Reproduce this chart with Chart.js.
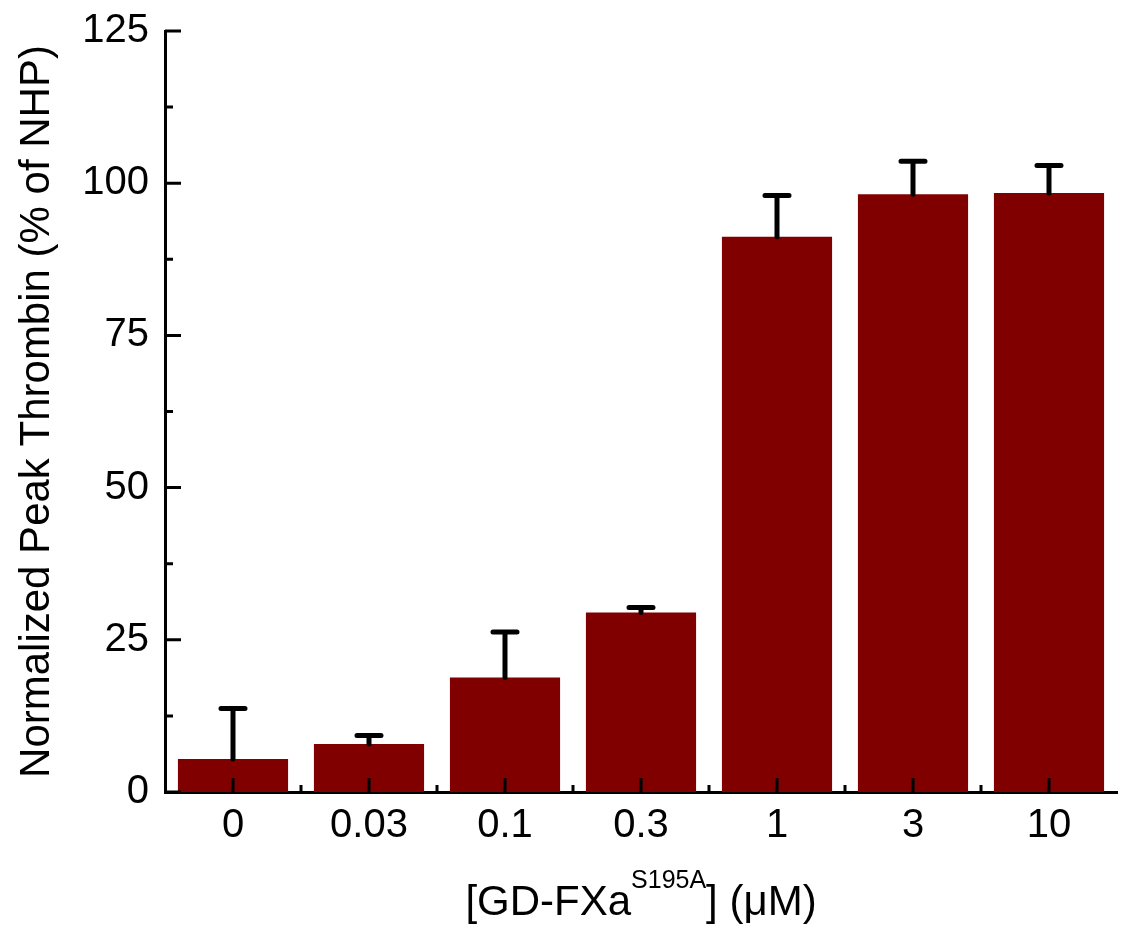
<!DOCTYPE html>
<html lang="en">
<head>
    <meta charset="UTF-8">
    <script src="https://cdn.jsdelivr.net/npm/chart.js"></script>
    <title>Normalized Peak Thrombin</title>
    <style>
        html, body { margin: 0; padding: 0; background: #fff; }
        #wrap { width: 1125px; height: 933px; }
    </style>
</head>
<body>
    <div id="wrap"><canvas id="grafico"></canvas></div>

<script>
    // Data
    var concentracoes = ["0", "0.03", "0.1", "0.3", "1", "3", "10"];
    var picoTrombina = [5.4, 7.9, 18.8, 29.5, 91.2, 98.2, 98.4];
    var erroSuperior = [13.7, 9.3, 26.3, 30.3, 98.0, 103.6, 102.9]; // top of each error bar
    var ticksY = [0, 25, 50, 75, 100, 125];
    var ticksMenoresY = [12.5, 37.5, 62.5, 87.5, 112.5];

    var fonte = '"Liberation Sans", Arial, sans-serif';

    // Error bars (upper only) drawn through the scales
    var barrasErro = {
        id: 'barrasErro',
        afterDatasetsDraw(chart) {
            var ctx = chart.ctx;
            var x = chart.scales.x, y = chart.scales.y;
            ctx.save();
            ctx.strokeStyle = '#000';
            ctx.lineWidth = 5;
            ctx.lineCap = 'round';
            erroSuperior.forEach(function (v, i) {
                var px = x.getPixelForValue(i);
                var yTopo = y.getPixelForValue(v);
                var yBarra = y.getPixelForValue(picoTrombina[i]);
                ctx.beginPath();
                ctx.moveTo(px, yBarra);
                ctx.lineTo(px, yTopo);
                ctx.moveTo(px - 12, yTopo);
                ctx.lineTo(px + 12, yTopo);
                ctx.stroke();
            });
            ctx.restore();
        }
    };

    // Inward ticks on both axes + x title with superscript
    var eixos = {
        id: 'eixos',
        afterDraw(chart) {
            var ctx = chart.ctx;
            var x = chart.scales.x, y = chart.scales.y;
            var a = chart.chartArea;
            ctx.save();
            ctx.strokeStyle = '#000';
            ctx.lineWidth = 3;
            ctx.beginPath();
            ticksY.forEach(function (v) {
                var py = y.getPixelForValue(v);
                ctx.moveTo(a.left, py); ctx.lineTo(a.left + 16, py);
            });
            ticksMenoresY.forEach(function (v) {
                var py = y.getPixelForValue(v);
                ctx.moveTo(a.left, py); ctx.lineTo(a.left + 8, py);
            });
            concentracoes.forEach(function (c, i) {
                var px = x.getPixelForValue(i);
                ctx.moveTo(px, a.bottom); ctx.lineTo(px, a.bottom - 14);
                if (i > 0) {
                    var pm = x.getPixelForValue(i - 0.5);
                    ctx.moveTo(pm, a.bottom); ctx.lineTo(pm, a.bottom - 7);
                }
            });
            ctx.stroke();

            // x axis title
            var partes = [
                { t: '[GD-FXa', f: '42px ' + fonte, dy: 0 },
                { t: 'S195A', f: '25px ' + fonte, dy: -27 },
                { t: '] (\u03bcM)', f: '42px ' + fonte, dy: 0 }
            ];
            var total = 0;
            partes.forEach(function (p) { ctx.font = p.f; p.w = ctx.measureText(p.t).width; total += p.w; });
            var cx = (a.left + a.right) / 2 - total / 2;
            var base = 915;
            ctx.fillStyle = '#000';
            ctx.textBaseline = 'alphabetic';
            ctx.textAlign = 'left';
            partes.forEach(function (p) {
                ctx.font = p.f;
                ctx.fillText(p.t, cx, base + p.dy);
                cx += p.w;
            });
            ctx.restore();
        }
    };

    var contexto = document.getElementById('grafico');
    new Chart(contexto, {
        type: 'bar',
        data: {
            labels: concentracoes,
            datasets: [{
                data: picoTrombina,
                backgroundColor: '#800000',
                borderWidth: 0,
                categoryPercentage: 1,
                barPercentage: 0.81
            }]
        },
        options: {
            responsive: true,
            maintainAspectRatio: false,
            animation: false,
            layout: { padding: { top: 31, right: 8, left: 0, bottom: 0 } },
            plugins: {
                legend: { display: false },
                tooltip: { enabled: false }
            },
            scales: {
                x: {
                    grid: { display: false, drawTicks: false },
                    border: { display: true, color: '#000', width: 3 },
                    ticks: { color: '#000', padding: 10, font: { family: fonte, size: 40 } },
                    afterFit: function (s) { s.height = 141; s.paddingLeft = 0; s.paddingRight = 0; }
                },
                y: {
                    min: 0,
                    max: 125,
                    grid: { display: false, drawTicks: false },
                    border: { display: true, color: '#000', width: 3 },
                    ticks: { stepSize: 25, color: '#000', padding: 16, font: { family: fonte, size: 40 } },
                    title: {
                        display: true,
                        text: 'Normalized Peak Thrombin (% of NHP)',
                        color: '#000',
                        font: { family: fonte, size: 42 },
                        padding: { top: 12, bottom: 0 }
                    },
                    afterFit: function (s) { s.width = 165; s.paddingTop = 0; s.paddingBottom = 0; }
                }
            }
        },
        plugins: [barrasErro, eixos]
    });
</script>
</body>
</html>
